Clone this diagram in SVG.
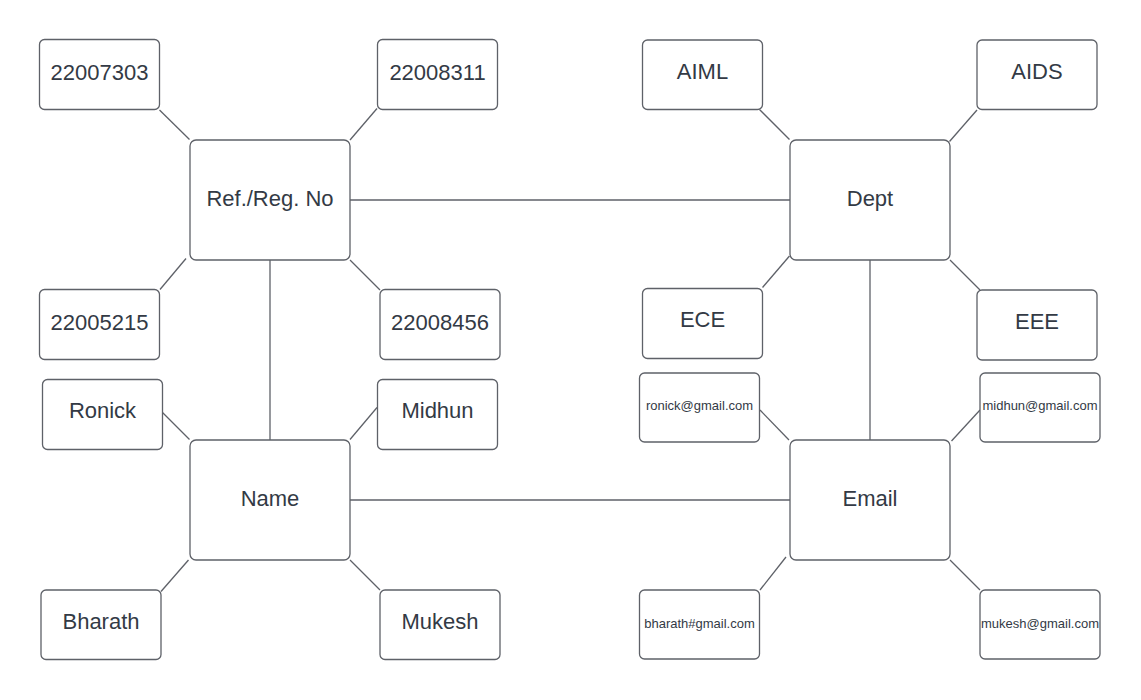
<svg xmlns="http://www.w3.org/2000/svg" width="1141" height="700" viewBox="0 0 1141 700">
<style>
.box{fill:#ffffff;stroke:#5e6168;stroke-width:1.3}
.t{font-family:"Liberation Sans",Arial,sans-serif;font-size:22px;fill:#333a45;text-anchor:middle}
.s{font-family:"Liberation Sans",Arial,sans-serif;font-size:13px;fill:#333a45;text-anchor:middle}
.c line{stroke:#5e6168;stroke-width:1.3;fill:none}
</style>
<rect x="0" y="0" width="1141" height="700" fill="#ffffff"/>
<g id="connectors" class="c">
<line x1="350" y1="200" x2="790" y2="200"/>
<line x1="350" y1="500" x2="790" y2="500"/>
<line x1="270" y1="260" x2="270" y2="440"/>
<line x1="870" y1="260" x2="870" y2="440"/>
<line x1="159.5" y1="110" x2="189.5" y2="139.5"/>
<line x1="377" y1="108.5" x2="350" y2="140"/>
<line x1="186" y1="258.5" x2="160" y2="289.5"/>
<line x1="350" y1="260" x2="380" y2="290"/>
<line x1="759.5" y1="109.5" x2="789.5" y2="139.5"/>
<line x1="977" y1="110" x2="949.5" y2="141.5"/>
<line x1="789.5" y1="256" x2="762.5" y2="287.5"/>
<line x1="950" y1="260" x2="980" y2="290"/>
<line x1="162.5" y1="412.5" x2="189.5" y2="439.5"/>
<line x1="350" y1="439.5" x2="377" y2="407.5"/>
<line x1="188.5" y1="560" x2="161" y2="591.5"/>
<line x1="350" y1="560" x2="380" y2="590"/>
<line x1="760" y1="410" x2="789" y2="440"/>
<line x1="951.5" y1="441" x2="980" y2="410"/>
<line x1="786" y1="557" x2="760" y2="590"/>
<line x1="950" y1="560" x2="980" y2="590"/>
</g>
<g id="ref"><rect class="box" x="190" y="140" width="160" height="120" rx="6"/><text class="t" x="270" y="206">Ref./Reg. No</text></g>
<g id="dept"><rect class="box" x="790" y="140" width="160" height="120" rx="6"/><text class="t" x="870" y="206">Dept</text></g>
<g id="name"><rect class="box" x="190" y="440" width="160" height="120" rx="6"/><text class="t" x="270" y="506">Name</text></g>
<g id="email"><rect class="box" x="790" y="440" width="160" height="120" rx="6"/><text class="t" x="870" y="506">Email</text></g>
<g id="n22007303"><rect class="box" x="39.5" y="39.5" width="120" height="70" rx="5"/><text class="t" x="99.5" y="80">22007303</text></g>
<g id="n22008311"><rect class="box" x="377.5" y="39.5" width="120" height="70" rx="5"/><text class="t" x="437.5" y="79.5">22008311</text></g>
<g id="n22005215"><rect class="box" x="39.5" y="289.5" width="120" height="70" rx="5"/><text class="t" x="99.5" y="329.5">22005215</text></g>
<g id="n22008456"><rect class="box" x="380" y="289.5" width="120" height="70" rx="5"/><text class="t" x="440" y="329.5">22008456</text></g>
<g id="aiml"><rect class="box" x="642.5" y="40" width="120" height="69.5" rx="5"/><text class="t" x="702.5" y="78.5">AIML</text></g>
<g id="aids"><rect class="box" x="977" y="40" width="120" height="69.5" rx="5"/><text class="t" x="1037" y="78.5">AIDS</text></g>
<g id="ece"><rect class="box" x="642.5" y="288.5" width="120" height="70" rx="5"/><text class="t" x="702.5" y="327">ECE</text></g>
<g id="eee"><rect class="box" x="977" y="290" width="120" height="70" rx="5"/><text class="t" x="1037" y="328.5">EEE</text></g>
<g id="ronick"><rect class="box" x="42.5" y="379.5" width="120" height="70" rx="5"/><text class="t" x="102.5" y="418">Ronick</text></g>
<g id="midhun"><rect class="box" x="377.5" y="379.5" width="120" height="70" rx="5"/><text class="t" x="437.5" y="418">Midhun</text></g>
<g id="bharath"><rect class="box" x="41" y="590" width="120" height="69.5" rx="5"/><text class="t" x="101" y="628.5">Bharath</text></g>
<g id="mukesh"><rect class="box" x="380" y="590" width="120" height="69.5" rx="5"/><text class="t" x="440" y="628.5">Mukesh</text></g>
<g id="ronick-mail"><rect class="box" x="639.5" y="373" width="120" height="69" rx="5"/><text class="s" x="699.5" y="410">ronick@gmail.com</text></g>
<g id="midhun-mail"><rect class="box" x="980" y="373" width="120" height="69" rx="5"/><text class="s" x="1040" y="410">midhun@gmail.com</text></g>
<g id="bharath-mail"><rect class="box" x="639.5" y="590" width="120" height="69" rx="5"/><text class="s" x="699.5" y="628">bharath#gmail.com</text></g>
<g id="mukesh-mail"><rect class="box" x="980" y="590" width="120" height="69" rx="5"/><text class="s" x="1040" y="628">mukesh@gmail.com</text></g>
</svg>
